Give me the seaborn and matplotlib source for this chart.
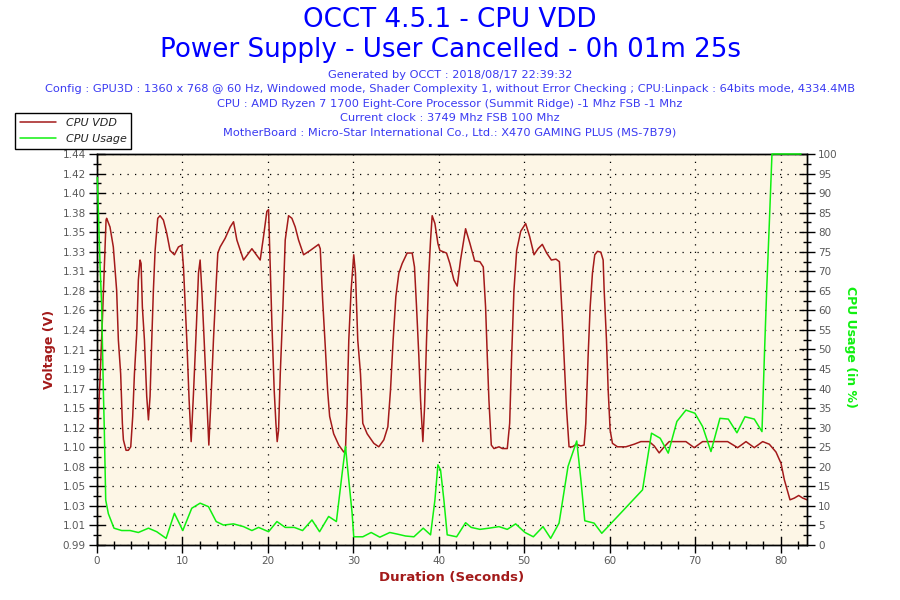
import numpy as np
import pandas as pd
import matplotlib
matplotlib.use("Agg")
import matplotlib.pyplot as plt
import seaborn as sns
from matplotlib.ticker import MultipleLocator, FixedLocator

TITLE = "OCCT 4.5.1 - CPU VDD"
SUBTITLE = "Power Supply - User Cancelled - 0h 01m 25s"
INFO_LINES = [
    "Generated by OCCT : 2018/08/17 22:39:32",
    "Config : GPU3D : 1360 x 768 @ 60 Hz, Windowed mode, Shader Complexity 1, without Error Checking ; CPU:Linpack : 64bits mode, 4334.4MB",
    "CPU : AMD Ryzen 7 1700 Eight-Core Processor (Summit Ridge) -1 Mhz FSB -1 Mhz",
    "Current clock : 3749 Mhz FSB 100 Mhz",
    "MotherBoard : Micro-Star International Co., Ltd.: X470 GAMING PLUS (MS-7B79)",
]
SERIES_NAMES = ["CPU VDD", "CPU Usage"]
X_LABEL = "Duration (Seconds)"
Y_LABEL = "Voltage (V)"
Y2_LABEL = "CPU Usage (in %)"

vdd_time = [0.04, 0.35, 0.63, 1.06, 1.13, 1.52, 1.91, 2.30, 2.50, 2.77, 2.97, 3.09, 3.40, 3.67, 3.95,
            4.18, 4.38, 4.65, 4.84, 5.04, 5.16, 5.31, 5.55, 5.82, 6.02, 6.21, 6.41, 6.60, 6.80, 7.11,
            7.38, 7.77, 8.16, 8.55, 9.06, 9.53, 9.92, 10.12, 10.51, 10.78, 11.02, 11.29, 11.60, 11.88,
            12.07, 12.27, 12.54, 12.85, 13.09, 13.32, 13.63, 13.95, 14.14, 14.41, 15.00, 15.59, 15.98,
            16.37, 17.15, 18.13, 19.10, 19.49, 19.88, 20.08, 20.27, 20.47, 20.74, 20.94, 21.09, 21.25,
            21.45, 21.76, 22.03, 22.42, 22.81, 23.20, 23.59, 24.18, 24.96, 25.94, 26.13, 26.41, 26.72,
            26.99, 27.23, 27.70, 28.30, 28.88, 29.08, 29.27, 29.47, 29.74, 30.05, 30.25, 30.52, 30.84,
            31.11, 31.62, 32.40, 32.98, 33.57, 34.04, 34.35, 34.66, 34.98, 35.33, 35.72, 36.30, 36.89,
            37.16, 37.40, 37.67, 37.87, 38.14, 38.34, 38.57, 38.84, 39.04, 39.23, 39.55, 39.90, 40.13,
            40.91, 41.30, 41.77, 42.16, 42.55, 43.14, 43.65, 44.20, 44.82, 45.21, 45.48, 45.68, 45.87,
            46.15, 46.46, 47.05, 47.44, 48.02, 48.30, 48.53, 48.80, 49.12, 49.59, 50.17, 50.64, 51.15,
            51.62, 52.12, 52.63, 53.18, 53.73, 54.12, 54.39, 54.66, 54.94, 55.25, 55.64, 56.11, 56.62,
            57.01, 57.21, 57.48, 57.72, 57.99, 58.26, 58.58, 58.97, 59.24, 59.36, 59.63, 59.83, 60.06,
            60.33, 60.92, 61.90, 62.87, 63.65, 64.63, 65.22, 65.80, 66.39, 66.97, 68.93, 69.90, 70.88,
            73.81, 74.98, 75.96, 76.93, 77.91, 78.69, 79.47, 80.06, 80.45, 81.11, 81.62, 82.13, 82.60,
            83.11]
vdd_volts = [1.111, 1.180, 1.249, 1.364, 1.366, 1.356, 1.333, 1.283, 1.226, 1.187, 1.130, 1.111, 1.099,
             1.099, 1.103, 1.138, 1.187, 1.234, 1.295, 1.318, 1.314, 1.264, 1.226, 1.161, 1.134, 1.161,
             1.226, 1.283, 1.329, 1.366, 1.369, 1.364, 1.349, 1.329, 1.324, 1.333, 1.335, 1.310, 1.226,
             1.157, 1.109, 1.164, 1.234, 1.303, 1.318, 1.283, 1.226, 1.157, 1.105, 1.153, 1.226, 1.291,
             1.326, 1.333, 1.343, 1.356, 1.362, 1.341, 1.318, 1.331, 1.318, 1.345, 1.374, 1.376, 1.310,
             1.245, 1.168, 1.130, 1.109, 1.122, 1.187, 1.264, 1.341, 1.369, 1.366, 1.356, 1.341, 1.324,
             1.329, 1.336, 1.331, 1.272, 1.218, 1.168, 1.138, 1.118, 1.105, 1.097, 1.099, 1.149, 1.226,
             1.283, 1.324, 1.303, 1.226, 1.187, 1.130, 1.118, 1.107, 1.103, 1.111, 1.126, 1.168, 1.226,
             1.276, 1.303, 1.314, 1.326, 1.326, 1.310, 1.264, 1.207, 1.157, 1.109, 1.149, 1.226, 1.303,
             1.341, 1.369, 1.360, 1.337, 1.329, 1.326, 1.314, 1.295, 1.288, 1.318, 1.354, 1.337, 1.317,
             1.316, 1.310, 1.264, 1.207, 1.157, 1.105, 1.101, 1.103, 1.101, 1.101, 1.130, 1.207, 1.283,
             1.329, 1.351, 1.360, 1.345, 1.324, 1.331, 1.336, 1.326, 1.318, 1.319, 1.316, 1.264, 1.207,
             1.149, 1.103, 1.103, 1.106, 1.104, 1.105, 1.130, 1.207, 1.264, 1.303, 1.324, 1.328, 1.327,
             1.318, 1.283, 1.226, 1.168, 1.122, 1.107, 1.103, 1.103, 1.106, 1.109, 1.109, 1.104, 1.096,
             1.103, 1.109, 1.109, 1.102, 1.109, 1.109, 1.102, 1.109, 1.102, 1.109, 1.106, 1.097, 1.084,
             1.065, 1.042, 1.044, 1.047, 1.044, 1.042]

usage_time = [0.04, 0.35, 0.55, 0.74, 0.86, 1.02, 1.33, 1.99, 2.89, 3.87, 4.84, 6.02, 6.99, 8.09, 9.06,
              10.04, 11.09, 12.07, 13.05, 13.95, 14.80, 15.98, 17.15, 18.13, 18.91, 20.08, 21.06, 22.03,
              23.09, 24.06, 25.16, 26.05, 27.11, 28.02, 28.69, 29.08, 29.47, 29.86, 30.05, 31.11, 32.09,
              33.10, 34.27, 35.13, 36.11, 37.09, 38.18, 39.04, 39.55, 39.90, 40.21, 40.60, 40.99, 42.09,
              43.14, 43.80, 44.82, 45.87, 47.05, 48.02, 49.00, 50.09, 51.07, 52.20, 53.10, 54.08, 55.13,
              56.15, 56.62, 57.09, 58.18, 59.08, 63.85, 64.90, 65.92, 66.86, 67.87, 68.93, 69.98, 70.88,
              71.86, 72.91, 73.89, 74.90, 75.84, 76.93, 77.83, 78.11, 78.38, 78.69, 79.00, 82.40]
usage_pct = [94.0, 72.0, 61.0, 40.0, 29.0, 11.5, 8.0, 4.3, 3.7, 3.7, 3.2, 4.3, 3.4, 1.7, 8.1,
             3.7, 9.4, 10.7, 9.8, 6.0, 5.1, 5.4, 4.7, 3.7, 4.5, 3.4, 6.0, 4.5,
             4.5, 3.7, 6.4, 3.4, 7.3, 6.0, 18.3, 25.2, 16.6, 8.1, 2.1, 2.1, 3.2,
             2.0, 3.2, 2.8, 2.3, 2.1, 4.3, 2.6, 11.5, 20.5, 19.2, 11.5, 2.6, 2.1,
             5.7, 4.5, 4.0, 4.3, 4.7, 4.0, 5.4, 3.2, 2.1, 4.7, 1.7, 5.6, 20.1,
             26.6, 17.0, 6.2, 5.6, 3.0, 14.1, 28.6, 27.3, 23.5, 31.6, 34.5, 33.7, 30.3,
             23.9, 32.4, 32.2, 28.7, 32.8, 32.2, 29.0, 48.2, 65.2, 82.3, 100.0, 100.0]

volt_ticks = [0.99, 1.0125, 1.035, 1.0575, 1.08, 1.1025, 1.125, 1.1475, 1.17, 1.1925, 1.215,
              1.2375, 1.26, 1.2825, 1.305, 1.3275, 1.35, 1.3725, 1.395, 1.4175, 1.44]
volt_labels = ["0.99", "1.01", "1.03", "1.05", "1.08", "1.10", "1.12", "1.15", "1.17", "1.19", "1.21",
               "1.24", "1.26", "1.28", "1.31", "1.33", "1.35", "1.38", "1.40", "1.42", "1.44"]
x_ticks = [0, 10, 20, 30, 40, 50, 60, 70, 80]
pct_ticks = list(range(0, 101, 5))

RED = "#A31A1A"
GREEN = "#10F010"
BG = "#FDF6E6"
TICKCOL = "#5A5A5A"

sns.set_style("white")
plt.rcParams["font.family"] = ["DejaVu Sans"]

fig = plt.figure(figsize=(9, 6), dpi=100)
fig.patch.set_facecolor("white")
ax = fig.add_axes([97 / 900, 55 / 600, 710 / 900, 391 / 600])
ax.set_facecolor(BG)
ax2 = ax.twinx()

vdd_df = pd.DataFrame({"t": vdd_time, "v": vdd_volts})
use_df = pd.DataFrame({"t": usage_time, "p": usage_pct})
sns.lineplot(data=vdd_df, x="t", y="v", ax=ax, color=RED, linewidth=1.1, label=SERIES_NAMES[0])
sns.lineplot(data=use_df, x="t", y="p", ax=ax2, color=GREEN, linewidth=1.1, label=SERIES_NAMES[1])
for ln in ax2.get_lines():
    ln.set_clip_on(False)
    ln.set_zorder(5)

ax.set_xlim(0, 83.1)
ax.set_ylim(volt_ticks[0], volt_ticks[-1])
ax2.set_ylim(pct_ticks[0], pct_ticks[-1])

ax.set_yticks(volt_ticks)
ax.set_yticklabels(volt_labels)
ax.yaxis.set_minor_locator(FixedLocator([(a + b) / 2 for a, b in zip(volt_ticks[:-1], volt_ticks[1:])]))
ax.set_xticks(x_ticks)
ax.xaxis.set_minor_locator(MultipleLocator(2))
ax2.set_yticks(pct_ticks)
ax2.yaxis.set_minor_locator(MultipleLocator(2.5))

for a in (ax, ax2):
    a.set_xlabel("")
    a.set_ylabel("")
    a.tick_params(which="major", direction="inout", length=12, width=1, color="black",
                  labelsize=7.5, labelcolor=TICKCOL, pad=2)
    a.tick_params(which="minor", direction="inout", length=6, width=1, color="black")
    for s in a.spines.values():
        s.set_color("black")
        s.set_linewidth(1)
ax.tick_params(axis="y", which="both", left=True, right=False)
ax.tick_params(axis="x", which="both", bottom=True, top=False)
ax2.tick_params(axis="y", which="both", right=True, left=False)

ax.grid(True, which="major", color="black", linestyle=(0, (1, 5)), linewidth=0.9)
ax2.grid(False)

for a in (ax, ax2):
    lg = a.get_legend()
    if lg is not None:
        lg.remove()

handles = ax.get_lines()[:1] + ax2.get_lines()[:1]
fig.legend(handles, SERIES_NAMES, loc="upper left", bbox_to_anchor=(15 / 900, 1 - 113 / 600),
           frameon=True, fancybox=False, edgecolor="black", framealpha=1, facecolor="white",
           prop={"style": "italic", "size": 8}, labelcolor="#222222", borderpad=0.45,
           handlelength=3.2, labelspacing=0.5, borderaxespad=0, handletextpad=0.9)

fig.text(0.5, 1 - 20 / 600, TITLE, ha="center", va="center", fontsize=18.8, color="#0000FF")
fig.text(0.5, 1 - 50 / 600, SUBTITLE, ha="center", va="center", fontsize=18.8, color="#0000FF")
for i, line in enumerate(INFO_LINES):
    fig.text(0.5, 1 - (75 + 14.3 * i) / 600, line, ha="center", va="center", fontsize=8.2, color="#3A3AF2")

fig.text(50 / 900, 1 - 349 / 600, Y_LABEL, rotation=90, ha="center", va="center",
         fontsize=9, fontweight="bold", color=RED)
fig.text(850 / 900, 1 - 347 / 600, Y2_LABEL, rotation=270, ha="center", va="center",
         fontsize=9, fontweight="bold", color=GREEN)
fig.text(452 / 900, 1 - 578 / 600, X_LABEL, ha="center", va="center",
         fontsize=9.5, fontweight="bold", color=RED)

fig.savefig("out.png", dpi=100)
